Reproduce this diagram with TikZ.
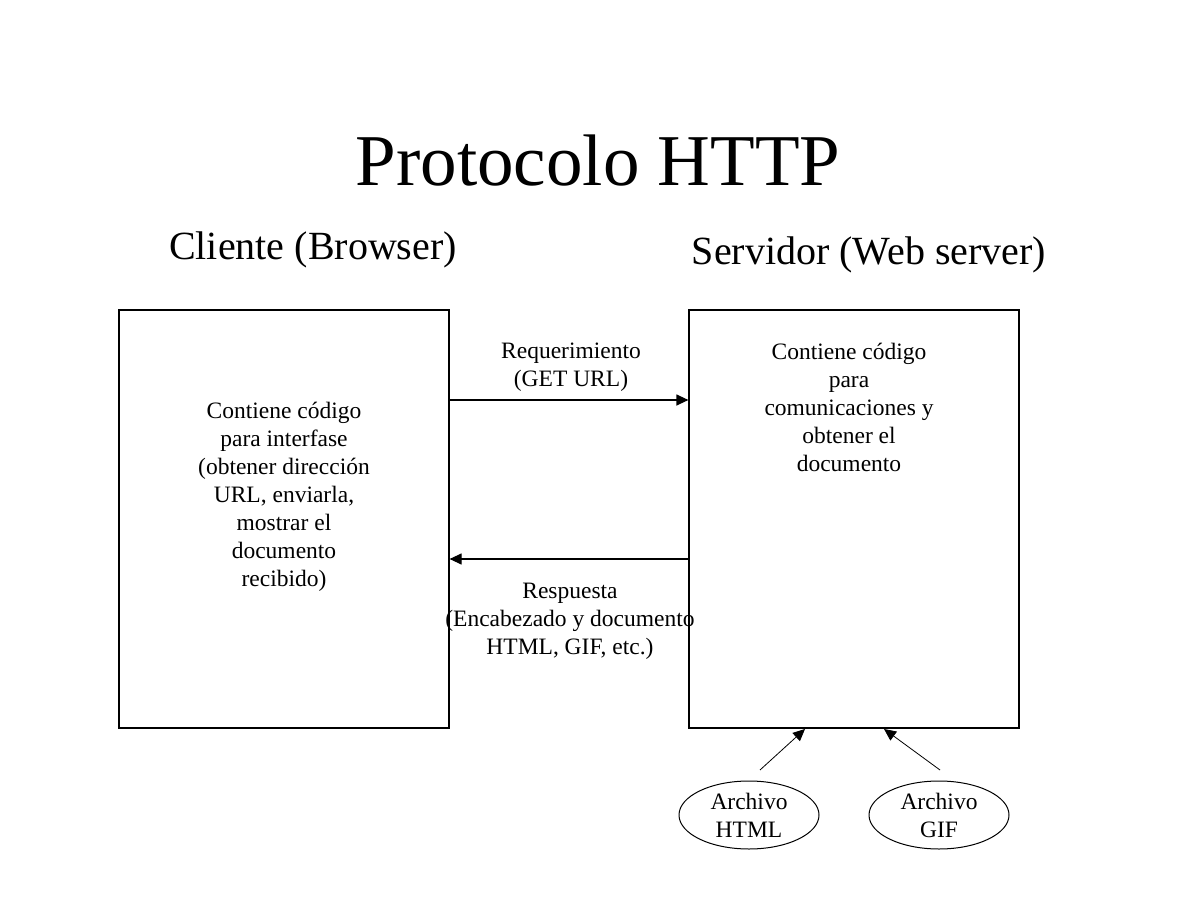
\documentclass[tikz,border=0pt]{standalone}
\usepackage{fontspec}
\setmainfont{Liberation Serif}
\usetikzlibrary{arrows.meta,shapes.geometric}
\tikzset{
  box/.style={draw,line width=0.6pt,minimum width=165pt,minimum height=209pt,inner sep=0pt},
  txt/.style={align=center,inner sep=0pt,font=\fontsize{11.75}{14}\selectfont},
  head/.style={inner sep=0pt,font=\fontsize{20}{24}\selectfont},
  file/.style={draw,ellipse,line width=0.5pt,minimum width=70pt,minimum height=34pt,inner sep=0pt,align=center,font=\fontsize{11.75}{14}\selectfont},
  conn/.style={line width=0.6pt,-{Triangle[length=6pt,width=5.5pt]}},
  thin/.style={line width=0.4pt,-{Triangle[length=6pt,width=5.5pt]}}
}
\begin{document}
\begin{tikzpicture}[x=0.5pt,y=-0.5pt]
\useasboundingbox (0,0) rectangle (1198,898);
\node[inner sep=0pt,font=\fontsize{36.5}{40}\selectfont] (title) at (598,161) {Protocolo HTTP};
\node[head] (hc) at (313,250) {Cliente (Browser)};
\node[head] (hs) at (869,255) {Servidor (Web server)};
\node[box] (cli) at (284,519) {};
\node[box] (srv) at (854,519) {};
\node[txt] (tc) at (284,497) {Contiene código\\para interfase\\(obtener dirección\\URL, enviarla,\\mostrar el\\documento\\recibido)};
\node[txt] (ts) at (849,407) {Contiene código\\para\\comunicaciones y\\obtener el\\documento};
\draw[conn] (cli.east |- 0,400) coordinate (r1) -- (srv.west |- r1);
\draw[conn] (srv.west |- 0,559) coordinate (r2) -- (cli.east |- r2);
\node[txt] (lreq) at (571,367) {Requerimiento\\(GET URL)};
\node[txt] (lres) at (570,621) {Respuesta\\(Encabezado y documento\\HTML, GIF, etc.)};
\node[file] (fh) at (749,815) {Archivo\\HTML};
\node[file] (fg) at (939,815) {Archivo\\GIF};
\coordinate (sh) at (760,770);
\coordinate (sg) at (940,770);
\coordinate (eh) at (805,729);
\coordinate (eg) at (884,729);
\draw[thin] (sh) -- (eh);
\draw[thin] (sg) -- (eg);
\end{tikzpicture}
\end{document}
